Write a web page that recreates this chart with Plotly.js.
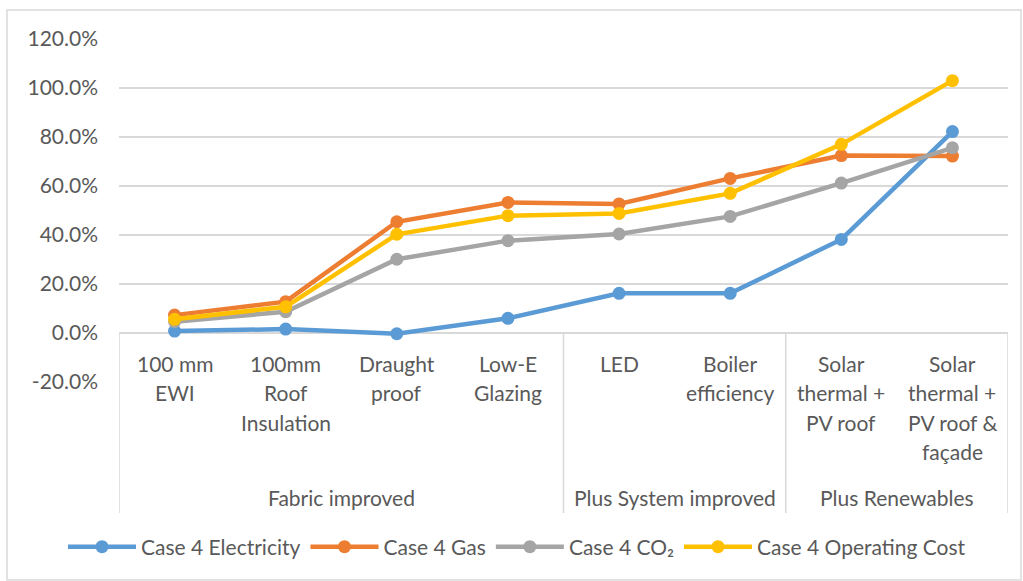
<!DOCTYPE html>
<html>
<head>
<meta charset="utf-8">
<script src="https://cdn.plot.ly/plotly-3.0.1.min.js"></script>
<style>html,body{margin:0;padding:0;background:#fff;}#chart{width:1023px;height:581px;}</style>
</head>
<body>
<div id="chart"></div>
<script>
// ---- data ----
const categories = ["100 mm EWI", "100mm Roof Insulation", "Draught proof", "Low-E Glazing", "LED", "Boiler efficiency", "Solar thermal + PV roof", "Solar thermal + PV roof & façade"];
const categoryLabelLines = [["100 mm", "EWI"], ["100mm", "Roof", "Insulation"], ["Draught", "proof"], ["Low-E", "Glazing"], ["LED"], ["Boiler", "efficiency"], ["Solar", "thermal +", "PV roof"], ["Solar", "thermal +", "PV roof &", "façade"]];
const categoryGroups = ["Fabric improved", "Fabric improved", "Fabric improved", "Fabric improved", "Plus System improved", "Plus System improved", "Plus Renewables", "Plus Renewables"];

const seriesNames = ["Case 4 Electricity", "Case 4 Gas", "Case 4 CO₂", "Case 4 Operating Cost"];
const electricity = [0.008, 0.016, -0.003, 0.060, 0.162, 0.162, 0.382, 0.822];
const gas = [0.073, 0.128, 0.454, 0.533, 0.527, 0.631, 0.724, 0.722];
const co2 = [0.046, 0.087, 0.301, 0.377, 0.404, 0.476, 0.612, 0.756];
const operatingCost = [0.056, 0.107, 0.403, 0.479, 0.488, 0.570, 0.770, 1.030];
const seriesColors = ["#5B9BD5", "#ED7D31", "#A5A5A5", "#FFC000"];

const yTickValues = [-0.2, 0, 0.2, 0.4, 0.6, 0.8, 1.0, 1.2];
const yTickLabels = ["-20.0%", "0.0%", "20.0%", "40.0%", "60.0%", "80.0%", "100.0%", "120.0%"];

// ---- layout geometry (pixels) ----
const W = 1023, H = 581;
const plotL = 119, plotR = 1008, plotT = 39, plotB = 382;
const plotH = plotB - plotT, plotW = plotR - plotL;
const py = p => (plotB - p) / plotH;  // pixel y -> paper y
const px = p => (p - plotL) / plotW;  // pixel x -> paper x

const textColor = "#595959";
const gridColor = "#D9D9D9";
const fontFam = "Lato, 'Open Sans', sans-serif";

const allSeries = [electricity, gas, co2, operatingCost];
const traces = allSeries.map((vals, i) => ({
  type: "scatter",
  mode: "lines+markers",
  name: seriesNames[i],
  x: categories,
  y: vals,
  line: {color: seriesColors[i], width: 4.5},
  marker: {color: seriesColors[i], size: 13},
  hoverinfo: "x+y+name"
}));

const annotations = [];
const shapes = [];
// category labels
categoryLabelLines.forEach((lines, ci) => {
  lines.forEach((ln, li) => {
    annotations.push({
      xref: "x", yref: "paper", x: ci, y: py(363 + li * 29.5),
      text: ln, showarrow: false, xanchor: "center", yanchor: "middle",
      font: {family: fontFam, size: 21, color: textColor}
    });
  });
});
// group labels & dividers
const groupStarts = [];
categoryGroups.forEach((g, i) => { if (i === 0 || categoryGroups[i - 1] !== g) groupStarts.push(i); });
groupStarts.forEach((s, gi) => {
  const e = gi + 1 < groupStarts.length ? groupStarts[gi + 1] - 1 : categoryGroups.length - 1;
  annotations.push({
    xref: "x", yref: "paper", x: (s + e) / 2, y: py(498),
    text: categoryGroups[s], showarrow: false, xanchor: "center", yanchor: "middle",
    font: {family: fontFam, size: 21, color: textColor}
  });
});
const boundaries = groupStarts.map(s => s - 0.5).concat([categoryGroups.length - 0.5]);
boundaries.forEach(b => {
  shapes.push({type: "line", xref: "x", yref: "paper", x0: b, x1: b, y0: py(513), y1: py(333),
    line: {color: gridColor, width: 1.5}});
});
// outer chart border
shapes.push({type: "rect", xref: "paper", yref: "paper", x0: px(7), x1: px(1021), y0: py(580), y1: py(10),
  line: {color: gridColor, width: 1.5}, fillcolor: "rgba(0,0,0,0)", layer: "below"});

const layout = {
  width: W, height: H,
  margin: {l: plotL, r: W - plotR, t: plotT, b: H - plotB, pad: 0},
  paper_bgcolor: "#ffffff", plot_bgcolor: "#ffffff",
  font: {family: fontFam, color: textColor, size: 21},
  showlegend: true,
  legend: {
    orientation: "h", x: px(63), y: py(547), xanchor: "left", yanchor: "middle",
    font: {family: fontFam, size: 21, color: textColor}, itemwidth: 68,
    bgcolor: "rgba(0,0,0,0)"
  },
  xaxis: {
    type: "category", range: [-0.5, categories.length - 0.5],
    showticklabels: false, showgrid: false, zeroline: false, showline: false, ticks: "", fixedrange: true
  },
  yaxis: {
    range: [-0.2, 1.2], tickmode: "array", tickvals: yTickValues, ticktext: yTickLabels,
    showgrid: true, gridcolor: gridColor, gridwidth: 1.3,
    zeroline: true, zerolinecolor: gridColor, zerolinewidth: 1.5,
    showline: false, ticks: "", ticklabelstandoff: 20,
    tickfont: {family: fontFam, size: 21, color: textColor}, fixedrange: true
  },
  annotations: annotations,
  shapes: shapes
};

Plotly.newPlot("chart", traces, layout, {displayModeBar: false, staticPlot: true});
</script>
</body>
</html>
